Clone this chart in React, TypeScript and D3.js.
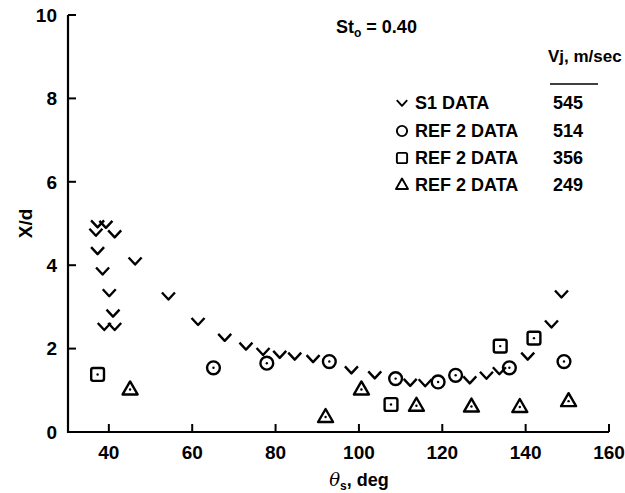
import React from "react";
import { scaleLinear, range } from "d3";

// S1 data (checks), Vj = 545 m/sec  [theta_s, X/d]
const s1Data: [number, number][] = [
  [37.3, 4.99], [39.3, 4.98], [36.9, 4.79], [41.4, 4.75], [37.3, 4.35],
  [38.5, 3.86], [40.1, 3.34], [41.0, 2.85], [38.9, 2.53], [41.4, 2.53],
  [46.3, 4.1], [54.3, 3.26], [61.4, 2.65], [67.8, 2.27], [72.9, 2.06],
  [77.0, 1.93], [81.0, 1.86], [84.6, 1.82], [89.0, 1.76], [98.2, 1.49],
  [103.8, 1.37], [112.3, 1.19], [115.9, 1.18], [126.6, 1.25], [130.6, 1.36],
  [133.7, 1.47], [140.5, 1.82], [146.2, 2.59], [148.6, 3.31],
];
// REF 2 data, 514 m/sec (circles)
const ref514: [number, number][] = [
  [65.1, 1.54], [77.9, 1.65], [92.9, 1.69], [108.8, 1.28], [119.0, 1.2],
  [123.2, 1.36], [136.1, 1.54], [149.2, 1.69],
];
// REF 2 data, 356 m/sec (squares)
const ref356: [number, number][] = [
  [37.3, 1.38], [107.7, 0.66], [133.9, 2.06], [142.0, 2.25],
];
// REF 2 data, 249 m/sec (triangles)
const ref249: [number, number][] = [
  [45.1, 1.02], [92.0, 0.36], [100.6, 1.02], [113.8, 0.63], [127.0, 0.61],
  [138.6, 0.6], [150.3, 0.74],
];

const xTicks = range(40, 161, 20);
const yTicks = range(0, 11, 2);
const legendLabels = ["S1 DATA", "REF 2 DATA", "REF 2 DATA", "REF 2 DATA"];
const legendVj = ["545", "514", "356", "249"];
const legendShapes = ["check", "circle", "square", "triangle"];

const W = 625;
const H = 493;
const font = "'Liberation Sans', Arial, Helvetica, sans-serif";

const x = scaleLinear().domain([30.2, 160]).range([68, 609]);
const y = scaleLinear().domain([0, 10]).range([432, 15]);

function Marker({ shape, cx, cy, s = 1, dot = true }: { shape: string; cx: number; cy: number; s?: number; dot?: boolean }) {
  const sw = 2.4 * s;
  const common = { fill: "none", stroke: "#000", strokeWidth: sw, strokeLinejoin: "round" as const };
  const d = dot ? <circle cx={cx} cy={cy} r={1.2} fill="#000" /> : null;
  if (shape === "check") {
    return (
      <path
        d={`M${cx - 6.5 * s},${cy - 3.5 * s}L${cx},${cy + 3.5 * s}L${cx + 6.5 * s},${cy - 3.5 * s}`}
        {...common}
      />
    );
  }
  if (shape === "circle") {
    return (
      <g>
        <circle cx={cx} cy={cy} r={6.4 * s} {...common} />
        {d}
      </g>
    );
  }
  if (shape === "square") {
    const h = 6.4 * s;
    return (
      <g>
        <rect x={cx - h} y={cy - h} width={2 * h} height={2 * h} rx={2 * s} {...common} />
        {d}
      </g>
    );
  }
  return (
    <g>
      <path
        d={`M${cx},${cy - 8 * s}L${cx + 7.5 * s},${cy + 5 * s}L${cx - 7.5 * s},${cy + 5 * s}Z`}
        {...common}
      />
      {d}
    </g>
  );
}

export default function App() {
  const x0 = x.range()[0];
  const x1 = x.range()[1];
  const yb = y(0);
  const yt = y(10);
  const legendRowY = [103, 131, 158, 185];

  return (
    <svg
      width={W}
      height={H}
      viewBox={`0 0 ${W} ${H}`}
      style={{ position: "absolute", left: 0, top: 0, background: "#fff" }}
      fontFamily={font}
      fontWeight="bold"
    >
      {/* axes */}
      <path d={`M${x0},${yt}V${yb}H${x1}`} fill="none" stroke="#000" strokeWidth={2.2} />
      {yTicks.map((t) => (
        <g key={"y" + t}>
          <line x1={x0} x2={x0 + 8} y1={y(t)} y2={y(t)} stroke="#000" strokeWidth={2} />
          <text x={57} y={y(t)} dy="0.36em" textAnchor="end" fontSize={19}>
            {t}
          </text>
        </g>
      ))}
      {xTicks.map((t) => (
        <g key={"x" + t}>
          <line x1={x(t)} x2={x(t)} y1={yb} y2={yb - 8} stroke="#000" strokeWidth={2} />
          <text x={x(t)} y={459} textAnchor="middle" fontSize={19}>
            {t}
          </text>
        </g>
      ))}
      <text x={x(100)} y={486} textAnchor="middle" fontSize={18}>
        <tspan fontStyle="italic" fontWeight="normal" fontFamily="'DejaVu Serif', serif">θ</tspan>
        <tspan fontSize={12} dy={4}>s</tspan>
        <tspan dy={-4}>, deg</tspan>
      </text>
      <text transform={`translate(32,${y(5.0)}) rotate(-90)`} textAnchor="middle" fontSize={19}>
        X/d
      </text>

      {/* title */}
      <text x={336} y={33} fontSize={18}>
        St<tspan fontSize={12} dy={4}>o</tspan>
        <tspan dy={-4}> = 0.40</tspan>
      </text>

      {/* legend */}
      <text x={548} y={62} fontSize={17}>Vj, m/sec</text>
      <line x1={550} x2={598} y1={84} y2={84} stroke="#000" strokeWidth={1.5} />
      {legendLabels.map((lab, i) => (
        <g key={"l" + i}>
          <Marker shape={legendShapes[i]} cx={402} cy={legendRowY[i]} s={0.8} dot={false} />
          <text x={415} y={legendRowY[i]} dy="0.36em" fontSize={18}>
            {lab}
          </text>
          <text x={553} y={legendRowY[i]} dy="0.36em" fontSize={18}>
            {legendVj[i]}
          </text>
        </g>
      ))}

      {/* data */}
      {s1Data.map(([a, b], i) => (
        <Marker key={"s" + i} shape="check" cx={x(a)} cy={y(b)} />
      ))}
      {ref514.map(([a, b], i) => (
        <Marker key={"c" + i} shape="circle" cx={x(a)} cy={y(b)} />
      ))}
      {ref356.map(([a, b], i) => (
        <Marker key={"q" + i} shape="square" cx={x(a)} cy={y(b)} />
      ))}
      {ref249.map(([a, b], i) => (
        <Marker key={"t" + i} shape="triangle" cx={x(a)} cy={y(b)} />
      ))}
    </svg>
  );
}
